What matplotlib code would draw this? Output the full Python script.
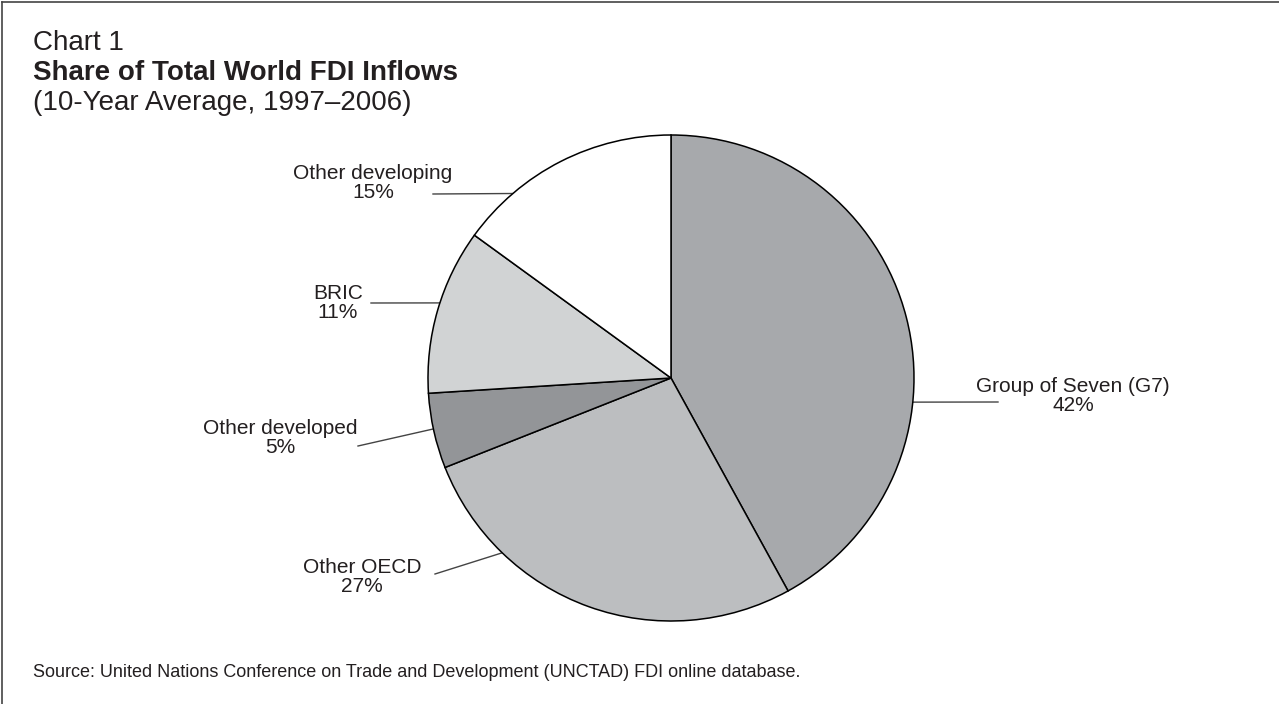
import matplotlib.pyplot as plt
import numpy as np

plt.rcParams['font.family'] = ['Liberation Sans', 'DejaVu Sans']

# data
labels = ['Group of Seven (G7)', 'Other OECD', 'Other developed', 'BRIC', 'Other developing']
shares = [42, 27, 5, 11, 15]
colors = ['#a7a9ac', '#bcbec0', '#939598', '#d1d3d4', '#ffffff']

W, H = 1279, 704
TXT = '#231f20'

fig = plt.figure(figsize=(W / 100, H / 100), dpi=100)

# pie centre (671, 378) px, radius 243 px
cx, cy, r = 671, 378, 243
ax = fig.add_axes([(cx - r) / W, (H - cy - r) / H, 2 * r / W, 2 * r / H])
wedges, _ = ax.pie(shares, colors=colors, startangle=90, counterclock=False,
                   radius=1, wedgeprops=dict(edgecolor='black', linewidth=1.1))
ax.set_xlim(-1, 1)
ax.set_ylim(-1, 1)
ax.set_aspect('equal')
ax.axis('off')


def px(x, y):
    # pixel position -> pie data units
    return (x - cx) / r, (cy - y) / r


# leader layout: anchor angle on rim, outer end of line (px), label centre (px)
leaders = {
    'Group of Seven (G7)': (-5.7, (998, 402), (1073, 396)),
    'Other OECD': (226.0, (435, 574), (362, 577)),
    'Other developed': (192.1, (358, 446), (280, 438)),
    'BRIC': (162.0, (371, 303), (338, 303)),
    'Other developing': (130.6, (433, 194), (373, 183)),
}

for lab, val in zip(labels, shares):
    ang, end, tc = leaders[lab]
    a = np.deg2rad(ang)
    ex, ey = px(*end)
    ax.plot([np.cos(a), ex], [np.sin(a), ey], color='#444444', lw=1.0,
            clip_on=False, zorder=0)
    tx, ty = px(*tc)
    ax.text(tx, ty, '{}\n{}%'.format(lab, val), ha='center', va='center',
            multialignment='center', fontsize=15, color=TXT,
            linespacing=1.0, clip_on=False)

# titles
fig.text(33 / W, 1 - 50 / H, 'Chart 1', fontsize=20, color=TXT, va='baseline')
fig.text(33 / W, 1 - 80 / H, 'Share of Total World FDI Inflows', fontsize=20,
         fontweight='bold', color=TXT, va='baseline')
fig.text(33 / W, 1 - 110 / H, '(10-Year Average, 1997\u20132006)', fontsize=20,
         color=TXT, va='baseline')
fig.text(33 / W, 1 - 677 / H,
         'Source: United Nations Conference on Trade and Development (UNCTAD) FDI online database.',
         fontsize=13, color=TXT, va='baseline')

# frame (left and top only visible)
fig.add_artist(plt.Line2D([1.5 / W, 1.5 / W], [0, 1 - 1.5 / H], color='#444444', lw=1.2))
fig.add_artist(plt.Line2D([1.5 / W, 1], [1 - 1.5 / H, 1 - 1.5 / H], color='#444444', lw=1.2))

fig.savefig('out.png', dpi=100)
